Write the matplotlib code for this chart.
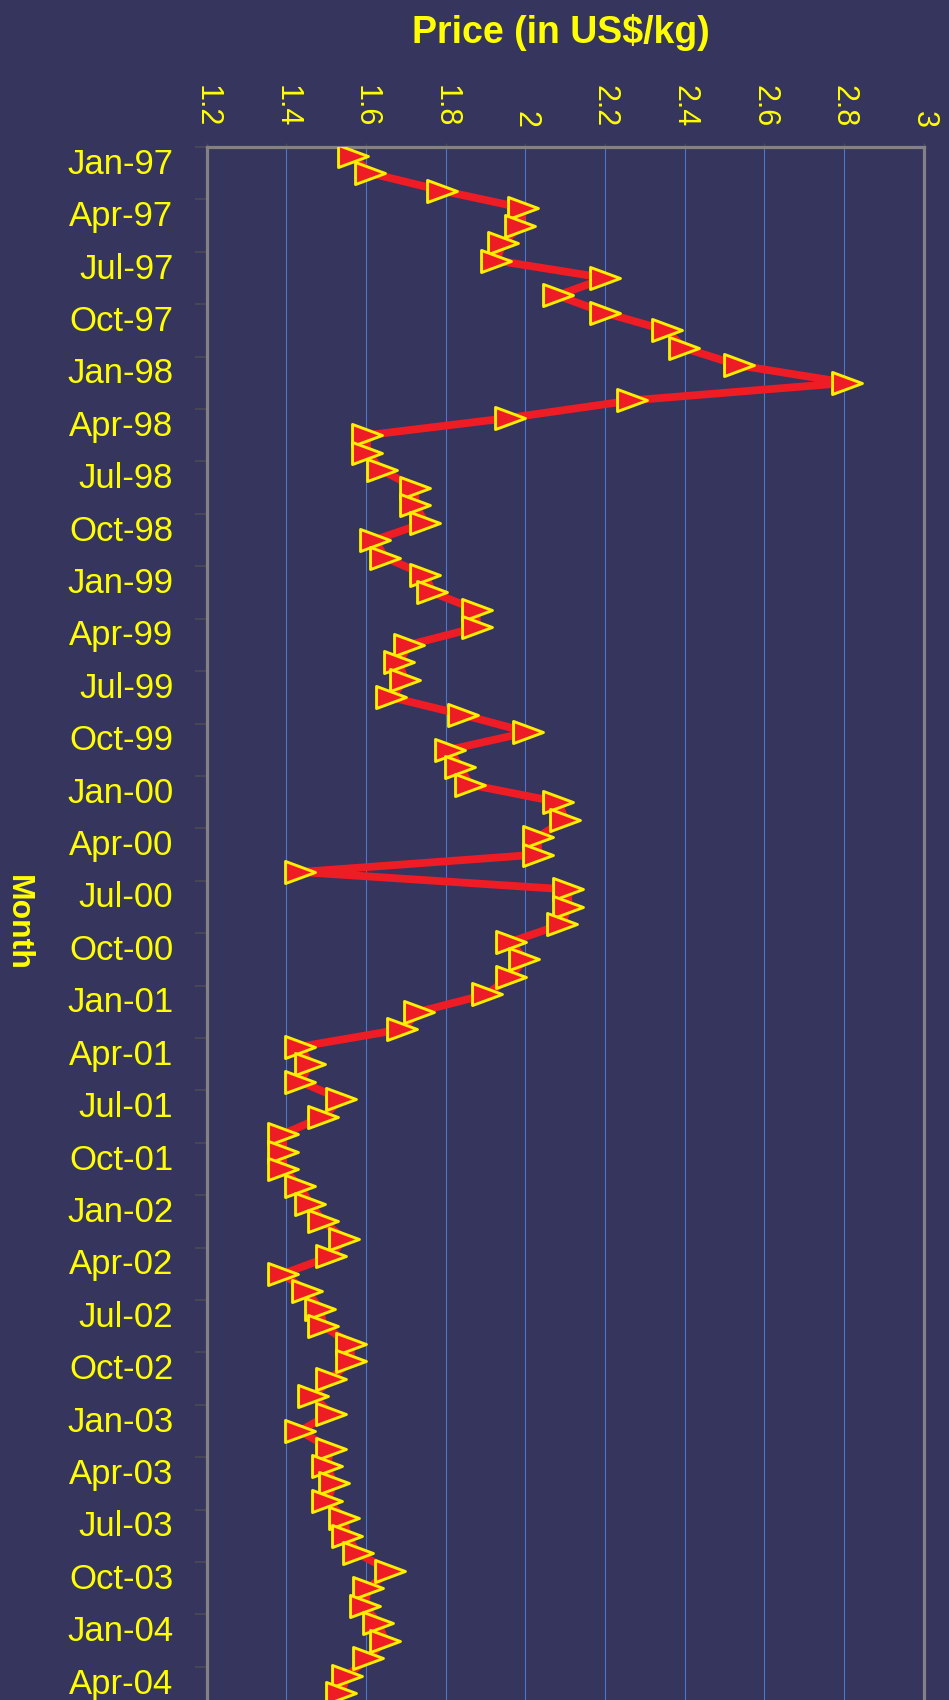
import numpy as np
import pandas as pd
import matplotlib
matplotlib.use("Agg")
import matplotlib.pyplot as plt
from matplotlib import font_manager
from matplotlib.path import Path
from matplotlib.markers import MarkerStyle
from matplotlib.transforms import ScaledTranslation
from matplotlib.ticker import FixedLocator, NullFormatter, FixedFormatter

# ---------------- data ----------------
month_labels = list(pd.date_range("1997-01-01", periods=89, freq="MS").strftime("%b-%y"))

prices = [
    1.567, 1.611, 1.791, 1.995, 1.988, 1.944, 1.927, 2.201, 2.081, 2.201, 2.355, 2.398,   # 1997
    2.536, 2.809, 2.269, 1.962, 1.602, 1.603, 1.639, 1.724, 1.724, 1.749, 1.622, 1.648,   # 1998
    1.749, 1.767, 1.878, 1.878, 1.708, 1.682, 1.698, 1.664, 1.843, 2.006, 1.810, 1.836,   # 1999
    1.861, 2.083, 2.100, 2.032, 2.032, 1.435, 2.108, 2.108, 2.091, 1.963, 1.998, 1.963,   # 2000
    1.903, 1.733, 1.690, 1.435, 1.460, 1.435, 1.537, 1.493, 1.392, 1.392, 1.392, 1.434,   # 2001
    1.460, 1.493, 1.545, 1.511, 1.392, 1.451, 1.485, 1.493, 1.562, 1.562, 1.511, 1.468,   # 2002
    1.511, 1.434, 1.511, 1.502, 1.519, 1.502, 1.545, 1.553, 1.579, 1.661, 1.605, 1.597,   # 2003
    1.631, 1.648, 1.605, 1.553, 1.537,                                                    # 2004
]

price_ticks = [1.2, 1.4, 1.6, 1.8, 2.0, 2.2, 2.4, 2.6, 2.8, 3.0]
price_tick_labels = ["1.2", "1.4", "1.6", "1.8", "2", "2.2", "2.4", "2.6", "2.8", "3"]

title_text = "Price (in US$/kg)"
ylabel_text = "Month"

# ---------------- style ----------------
BG = "#35355e"
YELLOW = "#ffff00"
RED = "#ee1c24"
MARK_EDGE = "#ffee00"
GRID = "#4a78c8"
SPINE = "#857f86"
TICKC = "#4a4a55"

names = {f.name for f in font_manager.fontManager.ttflist}
REG = "Liberation Sans" if "Liberation Sans" in names else "DejaVu Sans"
NARROW = "Liberation Sans Narrow" if "Liberation Sans Narrow" in names else REG

W, H = 949, 1700
fig = plt.figure(figsize=(W / 100, H / 100), dpi=100, facecolor=BG)

n_axis = 90
px_per_month = 17.47
left_px, right_px, top_px = 206.7, 923.5, 147.0
ax_h_px = n_axis * px_per_month
ax = fig.add_axes([left_px / W, 1 - (top_px + ax_h_px) / H,
                   (right_px - left_px) / W, ax_h_px / H], facecolor=BG)

idx = np.arange(len(prices))

tri = Path([(-1, -0.74), (1, 0), (-1, 0.74), (-1, -0.74)],
           [Path.MOVETO, Path.LINETO, Path.LINETO, Path.CLOSEPOLY])
marker = MarkerStyle(tri, joinstyle="miter")

ax.plot(prices, idx, color=RED, lw=5.6, zorder=3, solid_joinstyle="round",
        marker=marker, markersize=21.5, markerfacecolor=RED,
        markeredgecolor=MARK_EDGE, markeredgewidth=2.1)

ax.set_xlim(1.2, 3.0)
ax.set_ylim(n_axis - 0.5, -0.5)

# grid
for v in price_ticks[1:-1]:
    ax.axvline(v, color=GRID, lw=0.8, zorder=1)

# x axis on top
ax.xaxis.tick_top()
ax.set_xticks(price_ticks)
ax.set_xticklabels(price_tick_labels, rotation=-90, family=NARROW,
                   fontsize=22, color=YELLOW)
ax.tick_params(axis="x", which="major", length=3, width=1, color=TICKC,
               pad=11, top=True, bottom=False)

# y axis: tick marks between categories every 3 months, labels on categories
ax.yaxis.set_major_locator(FixedLocator(np.arange(-0.5, n_axis, 3)))
ax.yaxis.set_major_formatter(NullFormatter())
label_pos = list(range(0, len(month_labels), 3))
ax.yaxis.set_minor_locator(FixedLocator(label_pos))
ax.yaxis.set_minor_formatter(FixedFormatter([month_labels[i] for i in label_pos]))
ax.tick_params(axis="y", which="major", length=8.5, width=1.2, color=TICKC,
               direction="out")
ax.tick_params(axis="y", which="minor", length=0, pad=24, labelsize=25,
               labelcolor=YELLOW)
for lbl in ax.get_yticklabels(minor=True):
    lbl.set_family(REG)

# spines
for s in ["left", "top", "right"]:
    ax.spines[s].set_color(SPINE)
    ax.spines[s].set_linewidth(2.3)
ax.spines["bottom"].set_visible(False)

# shift category labels slightly downward like the reference
off = ScaledTranslation(0, -5 / 100, fig.dpi_scale_trans)
for t in ax.yaxis.get_minor_ticks():
    t.label1.set_transform(t.label1.get_transform() + off)

# titles
fig.text(561 / W, 1 - 43 / H, title_text, ha="center", va="baseline",
         family=REG, fontweight="bold", fontsize=27, color=YELLOW)
fig.text(18 / W, 1 - 923 / H, ylabel_text, ha="center", va="center",
         rotation=-90, family=NARROW, fontweight="bold", fontsize=23,
         color=YELLOW)

fig.savefig("out.png", dpi=100, facecolor=BG)
